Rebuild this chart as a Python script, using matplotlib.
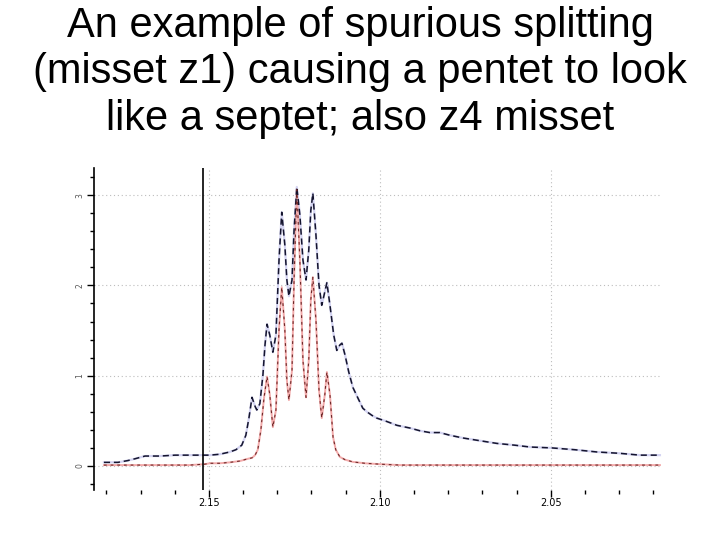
import matplotlib
matplotlib.use("Agg")
import matplotlib.pyplot as plt
from matplotlib.ticker import MultipleLocator, FixedLocator

# ---- data (ppm, intensity) ----
black_ppm = [2.1807, 2.1766, 2.1737, 2.1716, 2.1687, 2.1643, 2.1599, 2.1556, 2.1518, 2.1497,
             2.1468, 2.1439, 2.1421, 2.1404, 2.1392, 2.1383, 2.1374, 2.1365, 2.1360, 2.1351,
             2.1342, 2.1336, 2.1330, 2.1322, 2.1313, 2.1304, 2.1295, 2.1287, 2.1278, 2.1272,
             2.1266, 2.1257, 2.1251, 2.1243, 2.1234, 2.1225, 2.1216, 2.1208, 2.1202, 2.1196,
             2.1187, 2.1178, 2.1170, 2.1161, 2.1155, 2.1146, 2.1135, 2.1126, 2.1117, 2.1111,
             2.1102, 2.1091, 2.1079, 2.1064, 2.1050, 2.1038, 2.1023, 2.1009, 2.0985, 2.0950,
             2.0912, 2.0883, 2.0854, 2.0825, 2.0795, 2.0757, 2.0708, 2.0658, 2.0605, 2.0561,
             2.0497, 2.0430, 2.0365, 2.0298, 2.0240, 2.0181]
black_int = [0.04, 0.04, 0.06, 0.08, 0.11, 0.11, 0.12, 0.12, 0.12, 0.12,
             0.13, 0.155, 0.18, 0.23, 0.34, 0.53, 0.76, 0.66, 0.62, 0.69,
             1.01, 1.34, 1.57, 1.45, 1.26, 1.45, 2.28, 2.81, 2.45, 2.06,
             1.88, 2.06, 2.61, 3.09, 2.78, 2.28, 2.06, 2.39, 2.83, 3.02,
             2.56, 2.00, 1.78, 1.93, 2.03, 1.78, 1.45, 1.28, 1.34, 1.36,
             1.23, 1.04, 0.87, 0.75, 0.64, 0.60, 0.56, 0.53, 0.50, 0.45,
             0.42, 0.39, 0.37, 0.37, 0.34, 0.31, 0.28, 0.25, 0.23, 0.21,
             0.20, 0.18, 0.155, 0.14, 0.12, 0.12]

red_ppm = [2.1807, 2.1731, 2.1643, 2.1556, 2.1512, 2.1497, 2.1468, 2.1439, 2.1409, 2.1386,
           2.1374, 2.1365, 2.1357, 2.1348, 2.1339, 2.1330, 2.1322, 2.1313, 2.1304, 2.1295,
           2.1287, 2.1278, 2.1272, 2.1266, 2.1257, 2.1251, 2.1243, 2.1234, 2.1225, 2.1216,
           2.1208, 2.1202, 2.1196, 2.1187, 2.1178, 2.1170, 2.1161, 2.1155, 2.1146, 2.1137,
           2.1129, 2.1117, 2.1102, 2.1079, 2.1044, 2.1000, 2.0942, 2.0795, 2.0649, 2.0503,
           2.0357, 2.0181]
red_int = [0.01, 0.01, 0.01, 0.01, 0.02, 0.03, 0.03, 0.04, 0.055, 0.08,
           0.09, 0.12, 0.18, 0.40, 0.75, 0.99, 0.79, 0.43, 0.62, 1.51,
           1.98, 1.51, 0.95, 0.73, 1.06, 2.06, 3.06, 2.28, 1.17, 0.76,
           1.17, 1.84, 2.09, 1.62, 0.84, 0.53, 0.79, 1.04, 0.79, 0.32,
           0.18, 0.10, 0.07, 0.045, 0.03, 0.02, 0.01, 0.01, 0.01, 0.01,
           0.01, 0.01]

cursor_ppm = 2.1518
x_major_ticks = [2.15, 2.10, 2.05]
x_tick_labels = ["2.15", "2.10", "2.05"]
y_major_ticks = [0, 1, 2, 3]
y_tick_labels = ["0", "1", "2", "3"]

title_lines = ["An example of spurious splitting",
               "(misset z1) causing a pentet to look",
               "like a septet; also z4 misset"]

fig = plt.figure(figsize=(7.2, 5.4), dpi=100)
fig.patch.set_facecolor("white")

for txt, yb in zip(title_lines, [0.9315, 0.8454, 0.7593]):
    fig.text(0.5, yb, txt, ha="center", va="baseline", fontsize=30,
             family=["Liberation Sans", "DejaVu Sans"], color="black")

ax = fig.add_axes([0.1306, 0.0926, 0.7888, 0.5963])
ax.set_xlim(2.1836, 2.0175)
ax.set_ylim(-0.266, 3.30)

for s in ["top", "right", "bottom"]:
    ax.spines[s].set_visible(False)
ax.spines["left"].set_linewidth(1.2)

ax.xaxis.set_major_locator(FixedLocator(x_major_ticks))
ax.set_xticklabels(x_tick_labels)
ax.xaxis.set_minor_locator(MultipleLocator(0.01))
ax.yaxis.set_major_locator(FixedLocator(y_major_ticks))
ax.set_yticklabels(y_tick_labels, rotation=90, va="center")
ax.yaxis.set_minor_locator(MultipleLocator(0.2))

ax.tick_params(axis="x", which="major", length=5, width=1, labelsize=7, pad=1, direction="out")
ax.tick_params(axis="x", which="minor", length=3, width=1, direction="out")
ax.tick_params(axis="y", which="major", length=5, width=1, labelsize=5.5, pad=2, colors="black",
               labelcolor="#555555")
ax.tick_params(axis="y", which="minor", length=3, width=1)

ax.grid(True, which="major", linestyle=(0, (1, 2.5)), color="#bdbdbd", linewidth=0.8)
ax.set_axisbelow(True)

# black (misset) spectrum: faint halo + dark dashes
ax.plot(black_ppm, black_int, color="#d4d4f2", lw=1.6, zorder=3)
ax.plot(black_ppm, black_int, color="#15152e", lw=1.1, dashes=(4, 2.5), zorder=4)
# red (reference pentet) spectrum: pink line + dark red dashes
ax.plot(red_ppm, red_int, color="#f2aaaa", lw=1.4, zorder=3)
ax.plot(red_ppm, red_int, color="#6e2828", lw=0.8, dashes=(2.5, 3.5), zorder=4)

ax.axvline(cursor_ppm, color="black", lw=1.2, zorder=5)

fig.savefig("out.png", dpi=100, facecolor="white")
